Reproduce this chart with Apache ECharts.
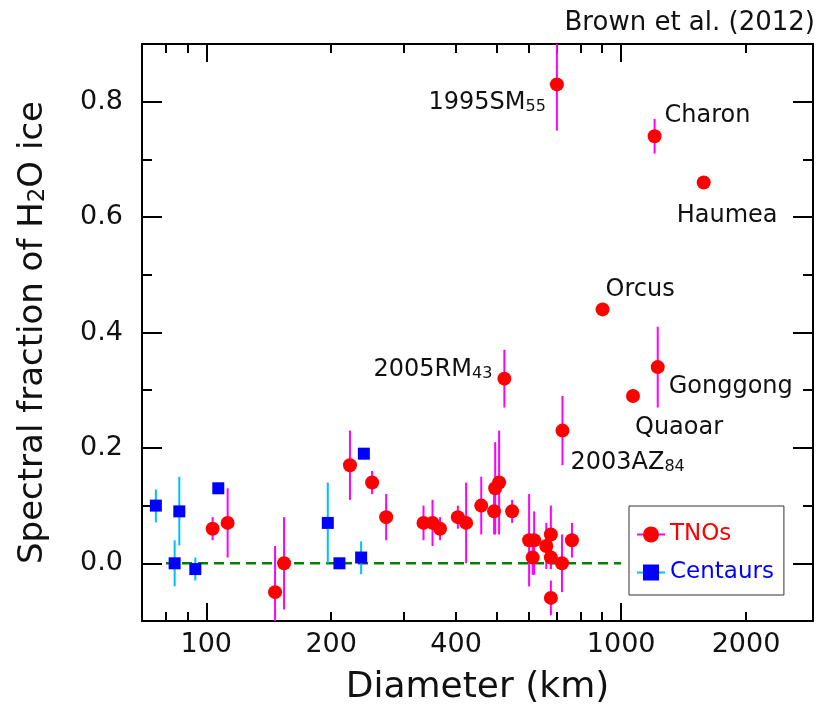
<!DOCTYPE html>
<html>
<head>
<meta charset="utf-8">
<script src="https://cdn.jsdelivr.net/npm/echarts@6/dist/echarts.min.js"></script>
<style>
html,body{margin:0;padding:0;background:#fff;}
#chart{width:819px;height:704px;}
</style>
</head>
<body>
<div id="chart"></div>
<script>
// ---------------- data ----------------
var tnoDiameter = [103.6, 112.6, 146.5, 154, 222, 251, 271.4, 333.9, 351, 366, 404, 423, 460, 494, 497, 508, 546, 600, 617, 612, 660, 677, 677, 677, 720, 761, 523, 722, 700, 902, 1068, 1204, 1225, 1581];
var tnoFraction = [0.06, 0.07, -0.05, 0.00, 0.17, 0.14, 0.08, 0.07, 0.07, 0.06, 0.08, 0.07, 0.10, 0.09, 0.13, 0.14, 0.09, 0.04, 0.04, 0.01, 0.03, 0.05, 0.01, -0.06, 0.00, 0.04, 0.32, 0.23, 0.83, 0.44, 0.29, 0.74, 0.34, 0.66];
var tnoErrLow = [0.04, 0.01, -0.13, -0.08, 0.11, 0.12, 0.04, 0.04, 0.03, 0.04, 0.06, 0.00, 0.05, 0.05, 0.05, 0.05, 0.07, -0.04, -0.02, -0.02, -0.01, -0.01, -0.01, -0.09, -0.05, 0.01, 0.27, 0.17, 0.75, null, null, 0.71, 0.27, null];
var tnoErrHigh = [0.08, 0.13, 0.03, 0.08, 0.23, 0.16, 0.12, 0.10, 0.11, 0.08, 0.10, 0.14, 0.15, 0.13, 0.21, 0.23, 0.11, 0.12, 0.09, 0.04, 0.07, 0.10, 0.03, -0.03, 0.05, 0.07, 0.37, 0.29, 0.91, null, null, 0.77, 0.41, null];
var tnoNames = ['', '', '', '', '', '', '', '', '', '', '', '', '', '', '', '', '', '', '', '', '', '', '', '', '', '', '2005RM{s|43}', '2003AZ{s|84}', '1995SM{s|55}', 'Orcus', 'Quaoar', 'Charon', 'Gonggong', 'Haumea'];

var centaurDiameter = [75.6, 83.9, 86.1, 94.1, 106.9, 196.3, 209.4, 236.2, 239.8];
var centaurFraction = [0.10, 0.00, 0.09, -0.01, 0.13, 0.07, 0.00, 0.01, 0.19];
var centaurErrLow = [0.071, -0.04, 0.031, -0.03, 0.12, 0.00, -0.007, -0.019, 0.18];
var centaurErrHigh = [0.128, 0.04, 0.15, 0.01, 0.14, 0.14, 0.007, 0.038, 0.20];

var zeroLineX = [80, 1000];
var zeroLineY = [0, 0];

var xLabelValues = [100, 200, 400, 1000, 2000];
var xMajorTicks = [100, 1000];
var xMinorTicks = [80, 90, 200, 300, 400, 500, 600, 700, 800, 900, 2000];
var yLabelValues = [0.0, 0.2, 0.4, 0.6, 0.8];
var yMinorTicks = [0.1, 0.3, 0.5, 0.7];

var xMin = 70, xMax = 2900, yMin = -0.1, yMax = 0.9;

// ---------------- layout / style ----------------
var FONT = 'DejaVu Sans';
var TXT = '#111111';
var TNO_SIZE = 14;
var labelLayout = {
  '2005RM{s|43}': {dx: -12, dy: -9, align: 'right'},
  '2003AZ{s|84}': {dx: 8, dy: 32, align: 'left'},
  '1995SM{s|55}': {dx: -11, dy: 18, align: 'right'},
  'Orcus': {dx: 3, dy: -20, align: 'left'},
  'Quaoar': {dx: 2, dy: 32, align: 'left'},
  'Charon': {dx: 10, dy: -21, align: 'left'},
  'Gonggong': {dx: 11, dy: 20, align: 'left'},
  'Haumea': {dx: -27, dy: 33, align: 'left'}
};

var L = Math.log10;

function errData(d, lo, hi) {
  var out = [];
  for (var i = 0; i < d.length; i++) {
    if (lo[i] != null && hi[i] != null) out.push([d[i], lo[i], hi[i]]);
  }
  return out;
}
function errSeries(data, color) {
  return {
    type: 'custom', xAxisIndex: 0, yAxisIndex: 0, clip: true, silent: true, z: 2,
    data: data,
    renderItem: function (params, api) {
      var p1 = api.coord([api.value(0), api.value(1)]);
      var p2 = api.coord([api.value(0), api.value(2)]);
      return {type: 'line', shape: {x1: p1[0], y1: p1[1], x2: p2[0], y2: p2[1]},
              style: {stroke: color, lineWidth: 2}};
    }
  };
}

var tnoItems = tnoDiameter.map(function (d, i) {
  var item = {value: [d, tnoFraction[i]]};
  var nm = tnoNames[i];
  if (nm) {
    var lay = labelLayout[nm];
    item.label = {
      show: true, position: [TNO_SIZE / 2 + lay.dx, TNO_SIZE / 2 + lay.dy], formatter: nm,
      align: lay.align, verticalAlign: 'middle',
      fontFamily: FONT, fontSize: 24, color: TXT,
      rich: {s: {fontFamily: FONT, fontSize: 16, color: TXT, verticalAlign: 'bottom', padding: [8, 0, 0, 0]}}
    };
  }
  return item;
});
var centaurItems = centaurDiameter.map(function (d, i) { return [d, centaurFraction[i]]; });

function valAxis(pos, ticks, len, labels, showLine, extra) {
  var isY = (pos === 'left' || pos === 'right');
  var ax = {
    type: 'value', position: pos,
    min: isY ? yMin : L(xMin),
    max: isY ? yMax : L(xMax),
    splitLine: {show: false},
    axisLine: {show: showLine, onZero: false, lineStyle: {color: '#000', width: 2}},
    axisTick: {show: true, inside: true, length: len, customValues: ticks, lineStyle: {color: '#000', width: 2}},
    axisLabel: {show: false}
  };
  if (labels) ax.axisLabel = labels;
  if (extra) for (var k in extra) ax[k] = extra[k];
  return ax;
}

var option = {
  animation: false,
  backgroundColor: '#fff',
  textStyle: {fontFamily: FONT},
  title: {
    text: 'Brown et al. (2012)', right: 4, top: 10, padding: 0,
    textStyle: {fontFamily: FONT, fontSize: 26, fontWeight: 'normal', color: TXT}
  },
  grid: {left: 142, right: 6, top: 44, bottom: 83, containLabel: false, outerBoundsMode: 'none'},
  legend: {
    orient: 'vertical', left: 629, top: 506,
    padding: [17, 10, 11, 7], itemGap: 15, itemWidth: 28, itemHeight: 20,
    backgroundColor: '#fff', borderColor: '#333', borderWidth: 1, borderRadius: 0,
    textStyle: {fontFamily: FONT, fontSize: 23},
    selectedMode: false,
    data: [
      {name: 'TNOs', textStyle: {color: '#ff0000'}, itemStyle: {color: '#ff0000'}, lineStyle: {color: '#ff00ff', width: 2, opacity: 1}},
      {name: 'Centaurs', textStyle: {color: '#0000ff'}, itemStyle: {color: '#0000ff'}, lineStyle: {color: '#00bfff', width: 2, opacity: 1}}
    ]
  },
  xAxis: [
    {
      type: 'log', logBase: 10, min: xMin, max: xMax, position: 'bottom',
      splitLine: {show: false}, axisTick: {show: false}, axisLabel: {show: false},
      axisLine: {show: true, onZero: false, lineStyle: {color: '#000', width: 2}},
      name: 'Diameter (km)', nameLocation: 'middle', nameGap: 49,
      nameTextStyle: {fontFamily: FONT, fontSize: 36, color: TXT}
    },
    valAxis('bottom', xMajorTicks.map(L), 18, {
      show: true, customValues: xLabelValues.map(L), margin: 10,
      fontFamily: FONT, fontSize: 27, color: TXT,
      formatter: function (v) { return String(Math.round(Math.pow(10, v))); }
    }, false),
    valAxis('bottom', xMinorTicks.map(L), 9, null, false),
    valAxis('top', xMajorTicks.map(L), 18, null, true),
    valAxis('top', xMinorTicks.map(L), 9, null, false)
  ],
  yAxis: [
    valAxis('left', yLabelValues, 20, {
      show: true, customValues: yLabelValues, margin: 19,
      fontFamily: FONT, fontSize: 27, color: TXT,
      formatter: function (v) { return v.toFixed(1); }
    }, true, {
      name: 'Spectral fraction of H{s|2}O ice', nameLocation: 'middle', nameGap: 92,
      nameTextStyle: {fontFamily: FONT, fontSize: 34, color: TXT,
        rich: {s: {fontFamily: FONT, fontSize: 23, color: TXT, verticalAlign: 'bottom', padding: [10, 0, 0, 0]}}}
    }),
    valAxis('left', yMinorTicks, 10, null, false),
    valAxis('right', yLabelValues, 20, null, true),
    valAxis('right', yMinorTicks, 10, null, false)
  ],
  series: [
    errSeries(errData(centaurDiameter, centaurErrLow, centaurErrHigh), '#00bfff'),
    errSeries(errData(tnoDiameter, tnoErrLow, tnoErrHigh), '#ff00ff'),
    {
      type: 'line', name: 'zero', xAxisIndex: 0, yAxisIndex: 0, silent: true, z: 1,
      data: zeroLineX.map(function (x, i) { return [x, zeroLineY[i]]; }),
      showSymbol: false, symbol: 'none',
      lineStyle: {color: '#008000', width: 2.5, type: [10, 6]}
    },
    {
      type: 'line', name: 'Centaurs', xAxisIndex: 0, yAxisIndex: 0, z: 3,
      data: centaurItems, symbol: 'rect', symbolSize: 12, showSymbol: true,
      lineStyle: {width: 0, opacity: 0}, itemStyle: {color: '#0000ff'},
      emphasis: {disabled: true}
    },
    {
      type: 'line', name: 'TNOs', xAxisIndex: 0, yAxisIndex: 0, z: 4,
      data: tnoItems, symbol: 'circle', symbolSize: TNO_SIZE, showSymbol: true,
      lineStyle: {width: 0, opacity: 0}, itemStyle: {color: '#ff0000'},
      emphasis: {disabled: true}, labelLayout: {hideOverlap: false}
    }
  ]
};

var chart = echarts.init(document.getElementById('chart'), null, {renderer: 'canvas'});
chart.setOption(option);
</script>
</body>
</html>
